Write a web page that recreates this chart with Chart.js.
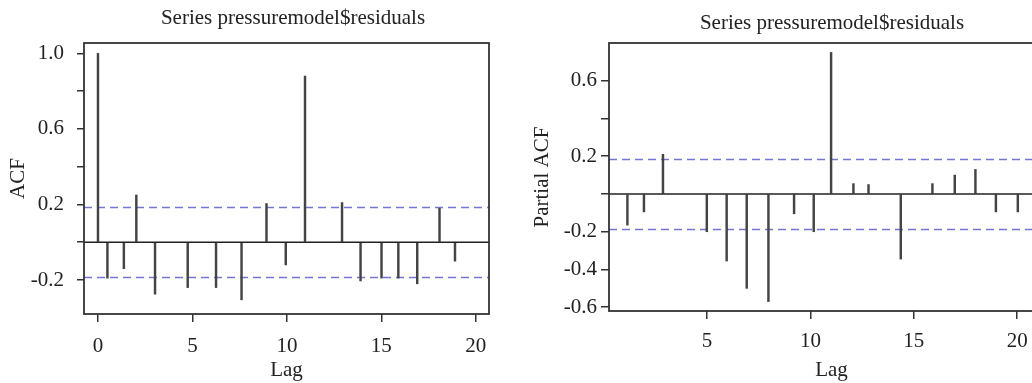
<!DOCTYPE html>
<html>
<head>
<meta charset="utf-8">
<script src="https://cdn.jsdelivr.net/npm/chart.js@4/dist/chart.umd.min.js"></script>
<style>
  html, body { margin: 0; padding: 0; background: #fff; overflow: hidden; }
  body { width: 1032px; height: 383px; position: relative; }
  .panel { position: absolute; top: 0; height: 383px; }
  #left { left: 0; width: 520px; }
  #right { left: 520px; width: 540px; }
</style>
</head>
<body>
<div class="panel" id="left"><canvas id="acf"></canvas></div>
<div class="panel" id="right"><canvas id="pacf"></canvas></div>
<script>
"use strict";
// ACF of the residuals (lags read off the original plot, not integers)
const acfLags = [0, 0.5, 1.37, 2.03, 3.02, 4.75, 6.25, 7.6, 8.92, 9.94, 10.96, 12.92, 13.9, 15.01, 15.9, 16.9, 18.08, 18.9];
const acfValues = [1.0, -0.19, -0.14, 0.25, -0.275, -0.24, -0.24, -0.305, 0.205, -0.12, 0.88, 0.21, -0.205, -0.19, -0.19, -0.22, 0.18, -0.1];
const acfCI = 0.185;
const acfYTicks = [-0.2, 0, 0.2, 0.4, 0.6, 0.8, 1.0];
const acfYLabels = ["-0.2", "", "0.2", "", "0.6", "", "1.0"];
const acfXTicks = [0, 5, 10, 15, 20];

// partial ACF
const pacfLags = [1.15, 1.95, 2.87, 4.99, 5.95, 6.92, 7.97, 9.21, 10.16, 11.0, 12.08, 12.81, 14.37, 15.9, 16.98, 17.98, 18.97, 20.03];
const pacfValues = [-0.165, -0.095, 0.21, -0.2, -0.355, -0.5, -0.57, -0.105, -0.2, 0.75, 0.055, 0.05, -0.345, 0.055, 0.1, 0.13, -0.095, -0.095];
const pacfCI = 0.187;
const pacfYTicks = [-0.6, -0.4, -0.2, 0, 0.2, 0.4, 0.6];
const pacfYLabels = ["-0.6", "-0.4", "-0.2", "", "0.2", "", "0.6"];
const pacfXTicks = [5, 10, 15, 20];

const titleText = "Series pressuremodel$residuals";
const serif = "'Liberation Serif', 'DejaVu Serif', serif";

// box, zero line, confidence band and title
const acfDecor = {
    id: "acfDecor",
    beforeDatasetsDraw(chart, args, opts) {
        const { ctx, chartArea: a, scales: { y } } = chart;
        ctx.save();
        ctx.strokeStyle = "#7676d2";
        ctx.lineWidth = 1.3;
        ctx.setLineDash([8, 5]);
        [opts.ci, -opts.ci].forEach(v => {
            const py = Math.round(y.getPixelForValue(v)) + 0.5;
            ctx.beginPath();
            ctx.moveTo(a.left, py);
            ctx.lineTo(a.right, py);
            ctx.stroke();
        });
        ctx.restore();
    },
    afterDatasetsDraw(chart, args, opts) {
        const { ctx, chartArea: a, scales: { y } } = chart;
        ctx.save();
        ctx.strokeStyle = "#222";
        ctx.lineWidth = 1.6;
        const py = y.getPixelForValue(0);
        ctx.beginPath();
        ctx.moveTo(a.left, py);
        ctx.lineTo(a.right, py);
        ctx.stroke();
        ctx.strokeStyle = "#333";
        ctx.lineWidth = 1.8;
        ctx.strokeRect(a.left, a.top, a.right - a.left, a.bottom - a.top);
        ctx.fillStyle = "#222";
        ctx.font = opts.font;
        ctx.textAlign = "center";
        ctx.textBaseline = "middle";
        ctx.fillText(opts.title, opts.titleX, opts.titleY);
        ctx.restore();
    }
};

function makeChart(canvasId, lags, values, cfg) {
    return new Chart(document.getElementById(canvasId), {
        type: "bar",
        data: {
            datasets: [{
                data: lags.map((l, i) => ({ x: l, y: values[i] })),
                backgroundColor: "#444",
                borderWidth: 0,
                barThickness: 1.8
            }]
        },
        options: {
            responsive: true,
            maintainAspectRatio: false,
            animation: false,
            events: [],
            layout: { padding: cfg.padding },
            plugins: {
                legend: { display: false },
                tooltip: { enabled: false },
                acfDecor: { ci: cfg.ci, title: titleText, titleX: cfg.titleX, titleY: cfg.titleY, font: "21px " + serif }
            },
            scales: {
                x: {
                    type: "linear",
                    offset: false,
                    min: cfg.xMin,
                    max: cfg.xMax,
                    afterBuildTicks: s => { s.ticks = cfg.xTicks.map(v => ({ value: v })); },
                    afterFit: s => { s.height = cfg.xHeight; },
                    grid: { offset: false, drawOnChartArea: false, drawTicks: true, tickLength: 8, color: "#333", lineWidth: 1.5 },
                    border: { display: false },
                    ticks: { color: "#222", font: { family: serif, size: 21 }, padding: cfg.xPad, maxRotation: 0, autoSkip: false },
                    title: { display: true, text: "Lag", color: "#222", font: { family: serif, size: 21 }, padding: { top: 0, bottom: 0 } }
                },
                y: {
                    min: cfg.yMin,
                    max: cfg.yMax,
                    afterBuildTicks: s => { s.ticks = cfg.yTicks.map(v => ({ value: v })); },
                    afterFit: s => { s.width = cfg.yWidth; },
                    grid: { drawOnChartArea: false, drawTicks: true, tickLength: cfg.yTickLen, color: "#333", lineWidth: 1.5 },
                    border: { display: false },
                    ticks: {
                        color: "#222", font: { family: serif, size: 21 }, padding: cfg.yPad, autoSkip: false,
                        callback: (v, i) => cfg.yLabels[i]
                    },
                    title: { display: true, text: cfg.yTitle, color: "#222", font: { family: serif, size: 21 }, padding: { top: cfg.yTitlePad, bottom: 0 } }
                }
            }
        },
        plugins: [acfDecor]
    });
}

makeChart("acf", acfLags, acfValues, {
    ci: acfCI, titleX: 293, titleY: 18,
    padding: { top: 43, right: 31, bottom: 0, left: 0 },
    xMin: -0.74, xMax: 20.7, xTicks: acfXTicks, xHeight: 69, xPad: 12,
    yMin: -0.38, yMax: 1.055, yTicks: acfYTicks, yLabels: acfYLabels,
    yWidth: 84, yTickLen: 7, yPad: 13, yTitle: "ACF", yTitlePad: 6
});

makeChart("pacf", pacfLags, pacfValues, {
    ci: pacfCI, titleX: 312, titleY: 23,
    padding: { top: 43, right: 6, bottom: 0, left: 0 },
    xMin: 0.26, xMax: 21.78, xTicks: pacfXTicks, xHeight: 72, xPad: 10,
    yMin: -0.62, yMax: 0.8, yTicks: pacfYTicks, yLabels: pacfYLabels,
    yWidth: 89, yTickLen: 8, yPad: 4, yTitle: "Partial ACF", yTitlePad: 10
});
</script>
</body>
</html>
